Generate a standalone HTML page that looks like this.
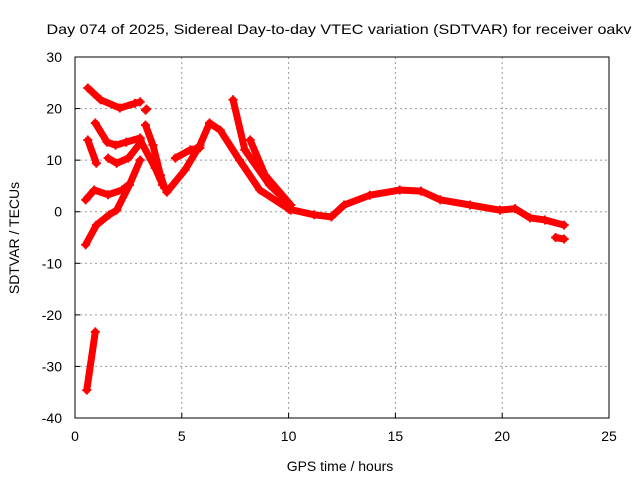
<!DOCTYPE html>
<html><head><meta charset="utf-8"><style>
body{margin:0;background:#fff;font-family:"Liberation Sans",sans-serif}
</style></head><body>
<svg id="chart" width="640" height="480" xmlns="http://www.w3.org/2000/svg" font-family="Liberation Sans, sans-serif" font-size="14">
<rect width="640" height="480" fill="#fff"/>
<g id="grid"></g>
<g id="marks"></g>
<rect x="75" y="57" width="534" height="361" fill="none" stroke="#000"/>
<g id="ticks"></g>
<text x="339" y="34" text-anchor="middle" textLength="585" lengthAdjust="spacingAndGlyphs">Day 074 of 2025, Sidereal Day-to-day VTEC variation (SDTVAR) for receiver oakv</text>
<text x="340" y="471" text-anchor="middle">GPS time / hours</text>
<text transform="translate(19,238) rotate(-90)" text-anchor="middle">SDTVAR / TECUs</text>
</svg>
<script>
const xTicks=[0,5,10,15,20,25];
const yTicks=[30,20,10,0,-10,-20,-30,-40];
const tracks=[
[[0.6,24],[1.2,21.7],[2.1,20.1],[2.8,21],[3.05,21.3]],
[[3.3,19.7],[3.35,19.9]],
[[0.95,17.2],[1.5,13.5],[1.9,12.9],[2.4,13.5],[3.05,14.3]],
[[0.6,13.9],[1.0,9.4]],
[[1.55,10.4],[1.95,9.4],[2.5,10.4],[3.05,13.3]],
[[0.5,2.3],[0.9,4.2],[1.55,3.3],[2.2,4.2],[2.5,5.2]],
[[0.5,-6.4],[1.0,-2.6],[1.6,-0.6],[1.95,0.3],[2.55,5.2],[3.05,10]],
[[3.3,16.8],[3.65,12.9],[4.0,7.1],[4.2,4.6]],
[[3.05,13.9],[3.75,8.5],[4.1,5.2]],
[[4.3,3.8],[5.15,8.1],[5.85,12.9],[6.3,17.2]],
[[4.7,10.4],[5.4,12],[5.85,12.4]],
[[6.3,17.2],[6.8,15.8],[7.7,10],[8.65,4.2],[10.1,0.3]],
[[7.4,21.7],[7.95,12],[9.1,5.2],[10.1,1.3]],
[[8.2,13.9],[8.9,7.1],[10.1,1.3]],
[[10,0.5],[11.2,-0.6],[12,-1],[12.6,1.3],[13.8,3.2],[15.2,4.2],[16.2,4],[17.1,2.3],[18.5,1.3],[19.9,0.3],[20.6,0.6],[21.3,-1.2],[22,-1.6],[22.9,-2.6]],
[[22.5,-5],[22.9,-5.3]],
[[0.55,-34.6],[0.95,-23.3]]
];
const NS="http://www.w3.org/2000/svg";
const X=v=>75+v*534/25, Y=v=>57+(30-v)*361/70;
const grid=document.getElementById('grid'),ticks=document.getElementById('ticks'),marks=document.getElementById('marks');
function mk(tag,a,p){const e=document.createElementNS(NS,tag);for(const k in a)e.setAttribute(k,a[k]);p.appendChild(e);return e;}
xTicks.forEach(t=>{
 if(t>0&&t<25){const l=mk('line',{x1:X(t),x2:X(t),y1:57,y2:418,stroke:'#999','stroke-dasharray':'2,3'},grid);
 
 }
 mk('line',{x1:X(t),x2:X(t),y1:418,y2:413,stroke:'#000'},ticks);
 const tx=mk('text',{x:X(t),y:441,'text-anchor':'middle'},ticks);tx.textContent=t;
 
 
});
yTicks.forEach(t=>{
 if(t<30&&t>-40){const l=mk('line',{x1:75,x2:609,y1:Y(t),y2:Y(t),stroke:'#999','stroke-dasharray':'2,3'},grid);
 
 }
 mk('line',{x1:75,x2:80,y1:Y(t),y2:Y(t),stroke:'#000'},ticks);
 const tx=mk('text',{x:62,y:Y(t)+5,'text-anchor':'end'},ticks);tx.textContent=t;
 
 
});
tracks.forEach(tr=>{
 const pl=mk('polyline',{points:tr.map(p=>X(p[0])+','+Y(p[1])).join(' '),fill:'none',stroke:'#f00','stroke-width':7,'stroke-linejoin':'round','stroke-linecap':'round'},marks);
 
 
 tr.forEach(p=>{const x=X(p[0]),y=Y(p[1]);
  const m=mk('path',{d:`M${x-4.5},${y}h9M${x},${y-4.5}v9`,stroke:'#f00','stroke-width':2},marks);
  
  });
});
</script>
</body></html>
